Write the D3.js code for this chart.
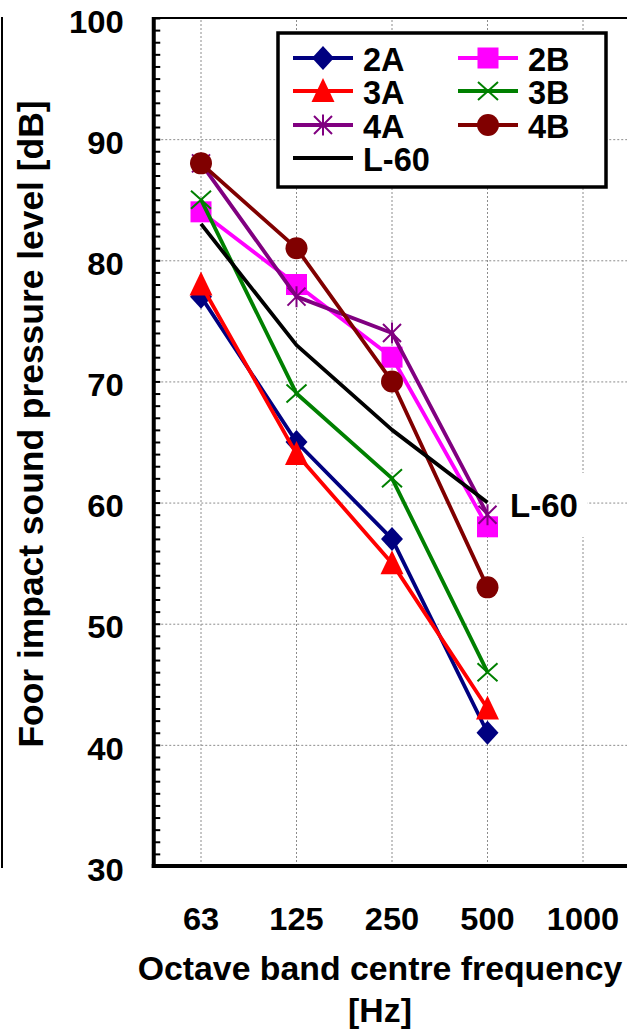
<!DOCTYPE html>
<html>
<head>
<meta charset="utf-8">
<script src="https://cdn.jsdelivr.net/npm/d3@7"></script>
<style>
  html, body { margin: 0; padding: 0; background: #fff; }
  svg { display: block; }
  text { font-family: "Liberation Sans", Arial, sans-serif; font-weight: bold; fill: #000; }
</style>
</head>
<body>
<svg id="chart" width="627" height="1029"></svg>
<script>
// ---- Data ----
const categories = ["63", "125", "250", "500", "1000"];
const seriesNames = ["2A", "2B", "3A", "3B", "4A", "4B", "L-60"];
const s2A  = [77, 65, 57, 41];
const s2B  = [84, 78, 72, 58];
const s3A  = [78, 64, 55, 43];
const s3B  = [85, 69, 62, 46];
const s4A  = [88, 77, 74, 59];
const s4B  = [88, 81, 70, 53];
const sL60 = [83, 73, 66, 60];
const yTicks = [30, 40, 50, 60, 70, 80, 90, 100];
const xTitle = "Octave band centre frequency";
const xTitle2 = "[Hz]";
const yTitle = "Foor impact sound pressure level [dB]";

const series = [
  { name: seriesNames[0], values: s2A, color: "#000080", marker: "diamond" },
  { name: seriesNames[1], values: s2B, color: "#FF00FF", marker: "square" },
  { name: seriesNames[2], values: s3A, color: "#FF0000", marker: "triangle" },
  { name: seriesNames[3], values: s3B, color: "#008000", marker: "x" },
  { name: seriesNames[4], values: s4A, color: "#800080", marker: "star" },
  { name: seriesNames[5], values: s4B, color: "#800000", marker: "circle" },
  { name: seriesNames[6], values: sL60, color: "#000000", marker: "none" }
];

// ---- Layout ----
const L = 153.25, R = 630.75, T = 18, B = 866;
const svg = d3.select("#chart");
const FONT = "Liberation Sans, Arial, sans-serif";

const x = d3.scaleBand().domain(categories).range([L, R]).padding(0);
const xc = c => x(c) + x.bandwidth() / 2;
const y = d3.scaleLinear().domain([30, 100]).range([B, T]);

// left frame line (remnant of image border)
svg.append("line").attr("x1", 2).attr("x2", 2).attr("y1", T - 1).attr("y2", B + 2)
  .attr("stroke", "#000").attr("stroke-width", 2);

// gridlines
const grid = svg.append("g").attr("class", "grid");
grid.append("g").attr("transform", `translate(${L},0)`)
  .call(d3.axisLeft(y).tickValues(yTicks.filter(v => v > 30 && v < 100)).tickSize(-(R - L)).tickFormat(""))
  .call(g => g.select(".domain").remove())
  .call(g => g.selectAll("line").attr("stroke", "#8c8c8c").attr("stroke-width", 1).attr("stroke-dasharray", "2,2"));
grid.append("g").attr("transform", `translate(0,${B})`)
  .call(d3.axisBottom(x).tickSize(-(B - T)).tickFormat(""))
  .call(g => g.select(".domain").remove())
  .call(g => g.selectAll("line").attr("stroke", "#8c8c8c").attr("stroke-width", 1).attr("stroke-dasharray", "2,2"));

// top border
svg.append("line").attr("x1", L).attr("x2", 627).attr("y1", T).attr("y2", T)
  .attr("stroke", "#000").attr("stroke-width", 2);

// markers
function drawMarker(g, type, cx, cy, color) {
  if (type === "diamond") {
    g.append("path").attr("d", `M${cx},${cy - 12}L${cx + 11},${cy}L${cx},${cy + 12}L${cx - 11},${cy}Z`).attr("fill", color);
  } else if (type === "square") {
    g.append("rect").attr("x", cx - 10.5).attr("y", cy - 10.5).attr("width", 21).attr("height", 21).attr("fill", color);
  } else if (type === "triangle") {
    g.append("path").attr("d", `M${cx},${cy - 13}L${cx + 11.5},${cy + 11}L${cx - 11.5},${cy + 11}Z`).attr("fill", color);
  } else if (type === "x") {
    g.append("path").attr("d", `M${cx - 10},${cy - 9}L${cx + 10},${cy + 9}M${cx + 10},${cy - 9}L${cx - 10},${cy + 9}`)
      .attr("stroke", color).attr("stroke-width", 2).attr("fill", "none");
  } else if (type === "star") {
    g.append("path").attr("d", `M${cx - 9},${cy - 9}L${cx + 9},${cy + 9}M${cx + 9},${cy - 9}L${cx - 9},${cy + 9}M${cx},${cy - 10.5}L${cx},${cy + 10.5}`)
      .attr("stroke", color).attr("stroke-width", 2).attr("fill", "none");
  } else if (type === "circle") {
    g.append("circle").attr("cx", cx).attr("cy", cy).attr("r", 11).attr("fill", color);
  }
}

// series
const line = d3.line().x((d, i) => xc(categories[i])).y(d => y(d));
const plot = svg.append("g");
series.forEach(s => {
  const g = plot.append("g");
  g.append("path").datum(s.values).attr("d", line)
    .attr("fill", "none").attr("stroke", s.color)
    .attr("stroke-width", 3.8).attr("stroke-linejoin", "round");
  s.values.forEach((v, i) => drawMarker(g, s.marker, xc(categories[i]), y(v), s.color));
});

// y axis: tick labels
svg.append("g").attr("transform", `translate(${L},0)`)
  .call(d3.axisLeft(y).tickValues(yTicks).tickSize(0).tickPadding(29))
  .call(g => g.select(".domain").remove())
  .call(g => g.selectAll("text").attr("font-size", 31).attr("font-family", FONT).attr("font-weight", "bold")
    .attr("fill", "#000").attr("dy", "0.36em").attr("x", 0).attr("transform", "translate(-29.5,3) scale(1.06,1)"));
// y axis minor ticks inside
svg.append("g").attr("transform", `translate(${L},0)`)
  .call(d3.axisRight(y).tickValues(d3.range(30, 101, 1)).tickSize(7).tickFormat(""))
  .call(g => g.select(".domain").remove())
  .call(g => g.selectAll("line").attr("stroke", "#000").attr("stroke-width", 2));
svg.append("line").attr("x1", L + 0.5).attr("x2", L + 0.5).attr("y1", T - 1).attr("y2", B + 2)
  .attr("stroke", "#000").attr("stroke-width", 4);

// x axis
svg.append("g").attr("transform", `translate(0,${B})`)
  .call(d3.axisBottom(x).tickSize(0).tickPadding(0))
  .call(g => g.select(".domain").remove())
  .call(g => g.selectAll("text").attr("font-size", 31).attr("font-family", FONT).attr("font-weight", "bold")
    .attr("fill", "#000").attr("y", 0).attr("dy", "0.36em").attr("transform", "translate(0,53) scale(1.05,1)"));
svg.append("line").attr("x1", L - 1.5).attr("x2", 627).attr("y1", B).attr("y2", B)
  .attr("stroke", "#000").attr("stroke-width", 4);

// axis titles
svg.append("text").attr("x", 380).attr("y", 968).attr("dy", "0.36em").attr("text-anchor", "middle").attr("font-size", 33.8).text(xTitle);
svg.append("text").attr("x", 380).attr("y", 1010).attr("dy", "0.36em").attr("text-anchor", "middle").attr("font-size", 33.8).text(xTitle2);
svg.append("text").attr("transform", `translate(30,424) rotate(-90)`).attr("dy", "0.36em").attr("text-anchor", "middle").attr("font-size", 35.4).text(yTitle);

// legend
const lg = svg.append("g");
lg.append("rect").attr("x", 278).attr("y", 33).attr("width", 328).attr("height", 154)
  .attr("fill", "#fff").attr("stroke", "#000").attr("stroke-width", 3.5);
const legPos = [[0, 0], [1, 0], [0, 1], [1, 1], [0, 2], [1, 2], [0, 3]];
const colLine = [293, 458], colText = [363, 528];
const rowY = [58, 91, 125, 158];
series.forEach((s, i) => {
  const [c, r] = legPos[i];
  const cy = rowY[r];
  const g = lg.append("g");
  g.append("line").attr("x1", colLine[c]).attr("x2", colLine[c] + 60).attr("y1", cy).attr("y2", cy)
    .attr("stroke", s.color).attr("stroke-width", 3.8);
  drawMarker(g, s.marker, colLine[c] + 30, cy, s.color);
  g.append("text").attr("x", colText[c]).attr("y", cy + 1).attr("dy", "0.36em").attr("font-size", 32.5).text(s.name);
});

// L-60 data label
const lab = svg.append("g");
lab.append("rect").attr("x", 500).attr("y", 473).attr("width", 87).attr("height", 64).attr("fill", "#fff");
lab.append("text").attr("x", 510).attr("y", y(sL60[3]) + 3).attr("dy", "0.36em").attr("font-size", 33).text("L-60");
</script>
</body>
</html>
